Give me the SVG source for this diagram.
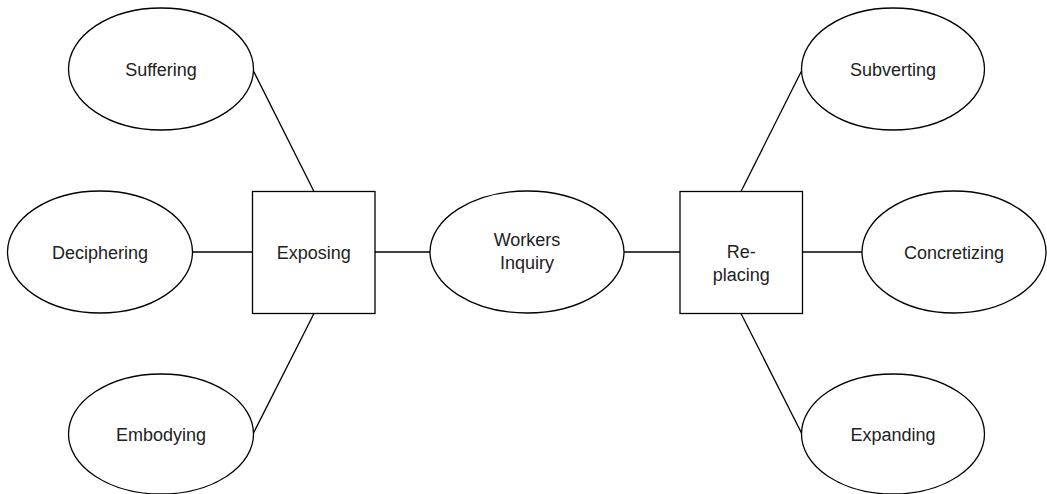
<svg xmlns="http://www.w3.org/2000/svg" width="1047" height="494" viewBox="0 0 1047 494">
<style>
.n{fill:#fff;stroke:#000;stroke-width:1.3}
.c{stroke:#000;stroke-width:1.3;fill:none}
text{font-family:"Liberation Sans",Arial,sans-serif;font-size:18px;fill:#222;text-anchor:middle}
</style>
<rect width="1047" height="494" fill="#fff"/>
<g id="connectors">
<line class="c" x1="253" y1="70" x2="314" y2="191.5"/>
<line class="c" x1="192.5" y1="252" x2="252.5" y2="252"/>
<line class="c" x1="314" y1="313.5" x2="253" y2="434"/>
<line class="c" x1="375" y1="252" x2="430" y2="252"/>
<line class="c" x1="624" y1="252" x2="680" y2="252"/>
<line class="c" x1="741" y1="191.5" x2="802" y2="70"/>
<line class="c" x1="802" y1="252" x2="862" y2="252"/>
<line class="c" x1="741" y1="313.5" x2="802" y2="434"/>
</g>
<g id="suffering"><ellipse class="n" cx="161" cy="69" rx="92.5" ry="61"/><text x="161" y="75.5">Suffering</text></g>
<g id="deciphering"><ellipse class="n" cx="100" cy="252" rx="92.5" ry="61"/><text x="100" y="258.5">Deciphering</text></g>
<g id="embodying"><ellipse class="n" cx="161" cy="434" rx="92.5" ry="60"/><text x="161" y="440.5">Embodying</text></g>
<g id="exposing"><rect class="n" x="252.5" y="191.5" width="122.5" height="122"/><text x="313.75" y="258.5">Exposing</text></g>
<g id="workers-inquiry"><ellipse class="n" cx="527" cy="252" rx="97" ry="61"/><text x="527" y="245.5">Workers</text><text x="527" y="268.5">Inquiry</text></g>
<g id="re-placing"><rect class="n" x="680" y="191.5" width="122.5" height="122"/><text x="741.25" y="257.5">Re-</text><text x="741.25" y="280.5">placing</text></g>
<g id="subverting"><ellipse class="n" cx="893" cy="69" rx="91.5" ry="61"/><text x="893" y="75.5">Subverting</text></g>
<g id="concretizing"><ellipse class="n" cx="954" cy="252" rx="92" ry="61"/><text x="954" y="258.5">Concretizing</text></g>
<g id="expanding"><ellipse class="n" cx="893" cy="434" rx="91.5" ry="60"/><text x="893" y="440.5">Expanding</text></g>
</svg>
